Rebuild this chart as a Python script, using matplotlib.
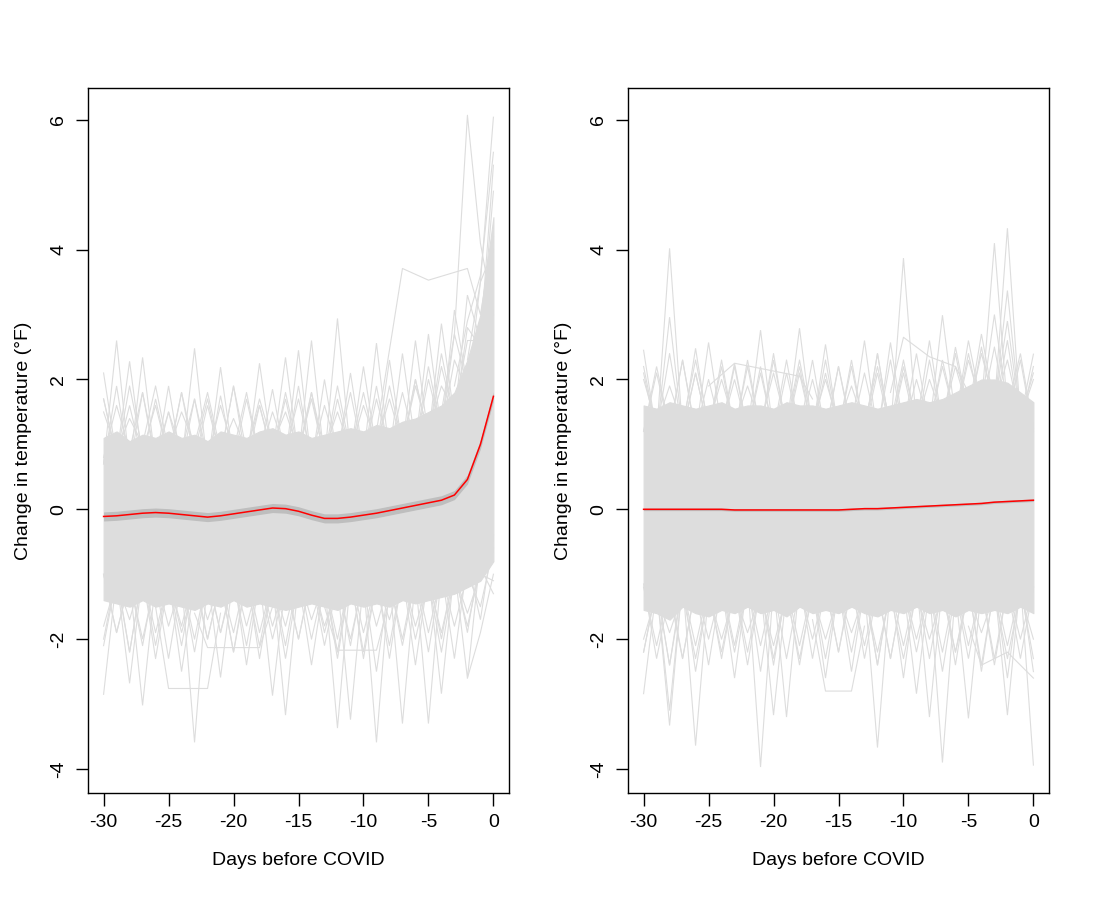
import numpy as np
import matplotlib
matplotlib.use("Agg")
import matplotlib.pyplot as plt

plt.rcParams['font.family'] = ['Liberation Sans', 'DejaVu Sans']

days = list(range(-30, 1))
x_ticks = [-30, -25, -20, -15, -10, -5, 0]
y_ticks = [-4, -2, 0, 2, 4, 6]

# ---------------- left panel data ----------------
core_hi_L = [1.1, 1.2, 1.05, 1.15, 1.1, 1.2, 1.1, 1.15, 1.05, 1.2, 1.15, 1.1, 1.2, 1.25, 1.15, 1.2,
             1.1, 1.15, 1.2, 1.25, 1.2, 1.3, 1.25, 1.35, 1.4, 1.5, 1.6, 1.8, 2.3, 3.0, 4.5]
core_lo_L = [-1.4, -1.45, -1.5, -1.4, -1.5, -1.45, -1.5, -1.55, -1.45, -1.5, -1.4, -1.5, -1.45, -1.5,
             -1.55, -1.5, -1.45, -1.5, -1.55, -1.45, -1.5, -1.45, -1.5, -1.4, -1.45, -1.4, -1.35,
             -1.3, -1.2, -1.1, -0.8]
fringe_L = [
    [1.7, 0.8, 1.9, 0.9, 1.6, 0.8, 1.8, 0.9, 1.7, 0.8, 1.9, 0.9, 1.6, 0.8, 1.8, 0.9, 1.7, 0.8, 1.9,
     0.9, 1.8, 0.9, 1.9, 1.0, 2.0, 1.1, 2.2, 1.4, 2.8, 2.5, 4.9],
    [0.8, 1.6, 0.9, 1.8, 0.8, 1.5, 0.9, 1.7, 0.8, 1.6, 0.9, 1.8, 0.8, 1.5, 0.9, 1.7, 0.8, 1.6, 0.9,
     1.8, 0.8, 1.7, 0.9, 1.8, 1.0, 2.0, 1.2, 2.3, 1.8, 3.5, 4.0],
    [1.5, 0.9, 1.4, 1.0, 1.9, 0.9, 1.5, 1.0, 1.8, 0.9, 1.4, 0.9, 1.7, 1.0, 1.5, 0.9, 1.8, 0.9, 1.5,
     0.9, 1.6, 1.0, 1.7, 1.0, 1.9, 1.2, 1.9, 1.5, 2.6, 2.6, 5.3],
    [-2.0, -1.0, -2.2, -1.0, -1.9, -1.1, -2.1, -1.0, -2.0, -1.1, -2.2, -1.0, -1.9, -1.1, -2.1, -1.0,
     -2.0, -1.1, -2.2, -1.0, -1.9, -1.1, -2.1, -1.0, -2.0, -1.1, -1.9, -1.0, -1.8, -0.9, -1.3],
    [-1.0, -1.9, -1.1, -2.1, -1.0, -1.8, -1.1, -2.0, -1.0, -1.9, -1.1, -2.1, -1.0, -1.8, -1.1, -2.0,
     -1.0, -1.9, -1.1, -2.1, -1.0, -1.8, -1.1, -2.0, -1.0, -1.9, -1.0, -1.8, -1.0, -1.5, -0.6],
    [-1.8, -1.1, -1.7, -1.0, -2.3, -1.1, -1.8, -1.0, -1.7, -1.1, -1.9, -1.0, -2.3, -1.1, -1.8, -1.0,
     -1.7, -1.1, -2.0, -1.0, -2.3, -1.1, -1.7, -1.0, -1.8, -1.1, -2.2, -1.0, -1.6, -1.0, -1.1],
]
up_days_L = [-30, -30, -29, -29, -28, -28, -27, -27, -26, -25, -25, -24, -23, -23, -22, -21, -21, -20,
             -19, -18, -18, -17, -16, -16, -15, -15, -14, -14, -13, -12, -12, -11, -10, -9, -9, -8,
             -7, -6, -6, -5, -5, -4, -4, -3, -3, -2]
up_vals_L = [2.1, 1.7, 2.6, 1.9, 2.28, 1.6, 2.34, 1.8, 1.7, 1.9, 1.5, 1.8, 2.48, 1.7, 1.6, 2.19, 1.75,
             1.9, 1.7, 2.25, 1.6, 1.85, 2.34, 1.7, 2.45, 1.9, 2.6, 1.8, 2.0, 2.94, 1.7, 2.1, 2.2,
             2.56, 1.9, 2.3, 2.4, 2.6, 2.0, 2.7, 2.2, 2.86, 2.4, 3.07, 2.7, 3.3]
lo_days_L = [-30, -30, -29, -28, -28, -27, -27, -26, -25, -24, -24, -23, -23, -22, -21, -21, -20, -19,
             -19, -18, -17, -17, -16, -16, -15, -14, -13, -13, -12, -12, -11, -11, -10, -9, -9, -8,
             -7, -7, -6, -5, -5, -4, -4, -3, -2, -2, -1]
lo_vals_L = [-2.85, -2.1, -1.9, -2.68, -2.2, -3.02, -2.0, -2.1, -2.3, -2.5, -1.9, -3.59, -2.2, -2.0,
             -2.59, -1.9, -2.2, -2.4, -1.8, -2.1, -2.87, -2.0, -3.17, -2.3, -2.0, -2.4, -2.1, -1.8,
             -3.37, -2.3, -3.24, -2.0, -2.2, -3.59, -2.5, -2.3, -3.3, -2.1, -2.4, -3.3, -2.2, -2.84,
             -2.0, -2.3, -2.6, -1.9, -1.7]
extra_L = [
    ([-4, -3, -2, -1, 0], [1.5, 2.7, 6.07, 4.1, 3.0]),
    ([-2, -1, 0], [2.3, 3.5, 6.04]),
    ([-3, -2, -1, 0], [1.9, 2.9, 3.6, 5.5]),
    ([-9, -7, -5, -2, -1, 0], [1.2, 3.71, 3.53, 3.71, 3.0, 4.2]),
    ([-26, -25, -22, -21], [-1.5, -2.76, -2.76, -1.6]),
    ([-23, -22, -18, -17], [-1.6, -2.13, -2.13, -1.5]),
    ([-13, -12, -9, -8], [-1.5, -2.17, -2.17, -1.4]),
    ([-2, -1, 0], [-2.6, -1.9, -1.0]),
]
mean_L = [-0.11, -0.10, -0.08, -0.06, -0.05, -0.06, -0.08, -0.10, -0.12, -0.10, -0.07, -0.04, -0.01,
          0.02, 0.01, -0.03, -0.09, -0.14, -0.14, -0.12, -0.09, -0.06, -0.02, 0.02, 0.06, 0.10,
          0.14, 0.22, 0.46, 1.00, 1.74]
ci_L = 0.07

# ---------------- right panel data ----------------
core_hi_R = [1.6, 1.55, 1.65, 1.6, 1.55, 1.6, 1.65, 1.55, 1.6, 1.6, 1.55, 1.65, 1.6, 1.6, 1.55, 1.6,
             1.65, 1.6, 1.55, 1.6, 1.65, 1.7, 1.65, 1.7, 1.8, 1.9, 2.0, 2.0, 1.95, 1.8, 1.65]
core_lo_R = [-1.55, -1.6, -1.7, -1.5, -1.6, -1.65, -1.55, -1.6, -1.5, -1.6, -1.55, -1.65, -1.5, -1.6,
             -1.55, -1.6, -1.5, -1.6, -1.65, -1.55, -1.6, -1.5, -1.6, -1.55, -1.65, -1.55, -1.6,
             -1.55, -1.6, -1.5, -1.6]
fringe_R = [
    [2.2, 1.2, 2.4, 1.2, 2.1, 1.2, 2.3, 1.2, 2.2, 1.2, 2.4, 1.2, 2.1, 1.2, 2.3, 1.2, 2.2, 1.2, 2.4,
     1.2, 2.1, 1.2, 2.3, 1.3, 2.4, 1.4, 2.5, 1.5, 2.6, 1.3, 2.2],
    [1.2, 2.1, 1.2, 2.3, 1.2, 2.0, 1.2, 2.2, 1.2, 2.1, 1.2, 2.3, 1.2, 2.0, 1.2, 2.2, 1.2, 2.1, 1.2,
     2.3, 1.2, 2.0, 1.3, 2.2, 1.4, 2.4, 1.5, 2.5, 1.4, 2.3, 1.2],
    [2.0, 1.3, 1.9, 1.3, 2.3, 1.3, 2.0, 1.3, 1.9, 1.3, 2.1, 1.3, 2.3, 1.3, 2.0, 1.3, 1.9, 1.3, 2.2,
     1.3, 2.3, 1.3, 2.0, 1.4, 2.2, 1.5, 2.4, 1.6, 2.3, 1.4, 2.0],
    [-2.2, -1.2, -2.4, -1.2, -2.1, -1.2, -2.3, -1.2, -2.2, -1.2, -2.4, -1.2, -2.1, -1.2, -2.3, -1.2,
     -2.2, -1.2, -2.4, -1.2, -2.1, -1.2, -2.3, -1.2, -2.2, -1.2, -2.4, -1.2, -2.1, -1.2, -2.3],
    [-1.2, -2.1, -1.2, -2.3, -1.2, -2.0, -1.2, -2.2, -1.2, -2.1, -1.2, -2.3, -1.2, -2.0, -1.2, -2.2,
     -1.2, -2.1, -1.2, -2.3, -1.2, -2.0, -1.2, -2.2, -1.2, -2.1, -1.2, -2.3, -1.2, -2.0, -1.2],
    [-2.0, -1.3, -1.9, -1.3, -2.3, -1.3, -2.0, -1.3, -1.9, -1.3, -2.1, -1.3, -2.3, -1.3, -2.0, -1.3,
     -1.9, -1.3, -2.2, -1.3, -2.3, -1.3, -2.0, -1.3, -2.2, -1.3, -1.9, -1.3, -2.3, -1.3, -2.0],
]
up_days_R = [-30, -30, -29, -28, -28, -27, -26, -26, -25, -24, -23, -23, -22, -21, -21, -20, -19, -18,
             -18, -17, -16, -16, -15, -14, -13, -12, -12, -11, -10, -10, -9, -8, -7, -7, -6, -5, -5,
             -4, -3, -3, -2, -2, -2, -1, 0, 0]
up_vals_R = [2.45, 2.1, 2.2, 4.02, 2.96, 2.3, 2.48, 2.1, 2.57, 2.2, 2.25, 2.0, 2.3, 2.76, 2.2, 2.3,
             2.1, 2.79, 2.2, 2.3, 2.54, 2.1, 2.2, 2.3, 2.6, 2.4, 2.1, 2.57, 3.87, 2.2, 2.4, 2.6, 2.99,
             2.3, 2.5, 2.6, 2.3, 2.7, 4.1, 3.0, 4.33, 3.37, 2.9, 2.4, 2.39, 2.1]
lo_days_R = [-30, -30, -29, -28, -28, -28, -27, -26, -26, -25, -24, -23, -23, -22, -21, -21, -20, -20,
             -19, -18, -17, -16, -15, -14, -13, -12, -12, -11, -10, -9, -9, -8, -7, -7, -6, -5, -5,
             -4, -3, -2, -2, -1, 0, 0]
lo_vals_R = [-2.84, -2.2, -2.3, -3.33, -3.1, -2.4, -2.3, -3.64, -2.5, -2.4, -2.2, -2.6, -2.1, -2.4,
             -3.97, -2.5, -3.17, -2.3, -3.2, -2.4, -2.3, -2.6, -2.2, -2.5, -2.3, -3.67, -2.4, -2.3,
             -2.6, -2.84, -2.2, -3.2, -3.9, -2.5, -2.4, -3.22, -2.3, -2.5, -2.4, -3.17, -2.6, -2.3,
             -3.94, -2.5]
extra_R = [
    ([-25, -23, -18, -17], [1.9, 2.25, 2.05, 1.7]),
    ([-11, -10, -8, -6, -5], [1.8, 2.65, 2.35, 2.2, 1.8]),
    ([-17, -16, -14, -13], [-1.7, -2.8, -2.8, -1.8]),
    ([-5, -4, -2, 0], [-1.8, -2.4, -2.2, -2.6]),
]
mean_R = [0.00, 0.00, 0.00, 0.00, 0.00, 0.00, 0.00, -0.01, -0.01, -0.01, -0.01, -0.01, -0.01, -0.01,
          -0.01, -0.01, 0.00, 0.01, 0.01, 0.02, 0.03, 0.04, 0.05, 0.06, 0.07, 0.08, 0.09, 0.11,
          0.12, 0.13, 0.14]
ci_R = 0.02

GRAY = '#DDDDDD'
BAND = '#BEBEBE'


def spikes(ax, core, sdays, svals, sign):
    for d, v in zip(sdays, svals):
        i = d - days[0]
        xs, ys = [], []
        if i > 0:
            xs.append(days[i - 1]); ys.append(core[i - 1] - sign * 0.4)
        xs.append(d); ys.append(v)
        if i < len(days) - 1:
            xs.append(days[i + 1]); ys.append(core[i + 1] - sign * 0.4)
        ax.plot(xs, ys, color=GRAY, lw=0.8, solid_joinstyle='miter', zorder=1)


def panel(ax, core_hi, core_lo, fringe, ud, uv, ld, lv, extra, mean, ci):
    ax.fill_between(days, core_lo, core_hi, color=GRAY, lw=0.8, edgecolor=GRAY, zorder=1)
    for fr in fringe:
        ax.plot(days, fr, color=GRAY, lw=0.8, zorder=1)
    spikes(ax, core_hi, ud, uv, 1)
    spikes(ax, core_lo, ld, lv, -1)
    for xs, ys in extra:
        ax.plot(xs, ys, color=GRAY, lw=0.8, zorder=1)
    m = np.array(mean)
    ax.fill_between(days, m - ci, m + ci, color=BAND, lw=0, zorder=2)
    ax.plot(days, mean, color='red', lw=1.1, zorder=3)
    ax.set_xlim(-31.2, 1.2)
    ax.set_ylim(-4.37, 6.49)
    ax.set_xticks(x_ticks)
    ax.set_xticklabels([str(t) for t in x_ticks])
    ax.set_yticks(y_ticks)
    ax.set_yticklabels([str(t) for t in y_ticks], rotation=90, va='center')
    ax.tick_params(length=9, width=1, labelsize=14, pad=6, colors='black')
    ax.tick_params(axis='x', pad=6)
    for s in ax.spines.values():
        s.set_linewidth(1.0)
        s.set_color('black')
    ax.set_xlabel('Days before COVID', fontsize=14, labelpad=15)
    ax.set_ylabel('Change in temperature (°F)', fontsize=14, labelpad=13)


fig = plt.figure(figsize=(11, 9), dpi=100)
axL = fig.add_axes([88 / 1100, 1 - 793 / 900, 421 / 1100, 705 / 900])
axR = fig.add_axes([628 / 1100, 1 - 793 / 900, 421 / 1100, 705 / 900])
panel(axL, core_hi_L, core_lo_L, fringe_L, up_days_L, up_vals_L, lo_days_L, lo_vals_L, extra_L,
      mean_L, ci_L)
panel(axR, core_hi_R, core_lo_R, fringe_R, up_days_R, up_vals_R, lo_days_R, lo_vals_R, extra_R,
      mean_R, ci_R)

fig.savefig('out.png', dpi=100, facecolor='white')
